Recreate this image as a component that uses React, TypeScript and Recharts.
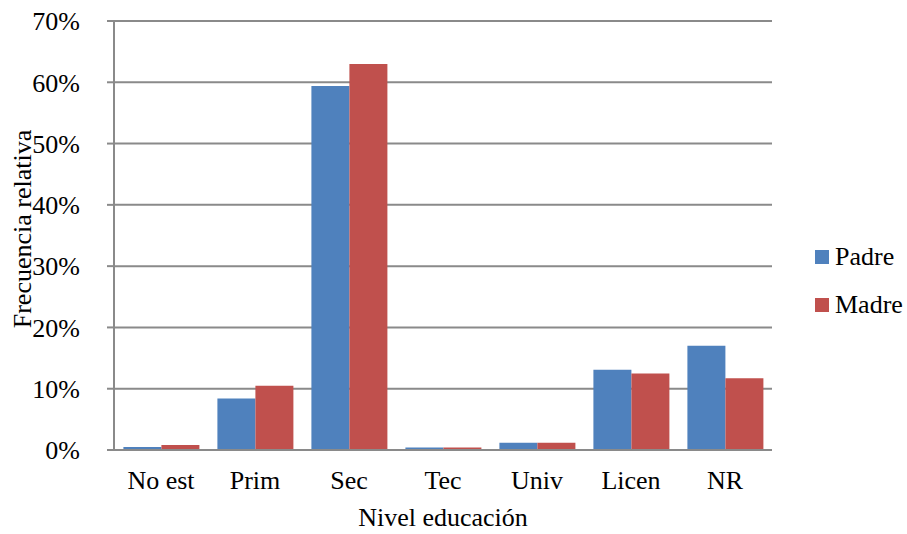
import {
  BarChart,
  Bar,
  XAxis,
  YAxis,
  CartesianGrid,
  Legend,
} from "recharts";

const niveles = ["No est", "Prim", "Sec", "Tec", "Univ", "Licen", "NR"];
const padre = [0.5, 8.4, 59.4, 0.4, 1.2, 13.1, 17.0];
const madre = [0.8, 10.5, 63.0, 0.4, 1.2, 12.5, 11.7];
const series = ["Padre", "Madre"];
const yTicks = [0, 10, 20, 30, 40, 50, 60, 70];

const data = niveles.map((nivel, i) => ({
  nivel,
  Padre: padre[i],
  Madre: madre[i],
}));

const font = "Liberation Serif, DejaVu Serif, Noto Serif, Times, serif";
const gray = "#8a8a8a";

const LegendBox = ({ payload = [] }: any) => {
  const items = [...payload].sort(
    (a: any, b: any) => series.indexOf(a.value) - series.indexOf(b.value)
  );
  return (
    <div>
      {items.map((p: any) => (
        <div
          key={p.value}
          style={{ display: "flex", alignItems: "center", height: 48 }}
        >
          <span
            style={{
              width: 14,
              height: 14,
              background: p.color,
              marginRight: 6,
              display: "inline-block",
            }}
          />
          <span style={{ fontSize: 26, fontFamily: font, color: "#000" }}>
            {p.value}
          </span>
        </div>
      ))}
    </div>
  );
};

const YTitle = () => (
  <text
    x={31}
    y={229}
    transform="rotate(-90 31 229)"
    textAnchor="middle"
    fontSize={26}
    fontFamily={font}
    fill="#000"
  >
    Frecuencia relativa
  </text>
);

export default () => {
  return (
    <div
      style={{
        position: "absolute",
        left: 0,
        top: 0,
        width: 907,
        height: 534,
        background: "#fff",
        fontFamily: font,
      }}
    >
      <BarChart
        width={907}
        height={534}
        data={data}
        margin={{ top: 21, right: 135, left: 0, bottom: 0 }}
        barCategoryGap="10%"
        barGap={0}
      >
        <CartesianGrid vertical={false} stroke={gray} strokeWidth={2} />
        <XAxis
          dataKey="nivel"
          height={84}
          tickLine={false}
          tickSize={0}
          tickMargin={21}
          axisLine={{ stroke: gray, strokeWidth: 2 }}
          tick={{ fontSize: 26, fontFamily: font, fill: "#000" }}
          interval={0}
          label={{
            value: "Nivel educación",
            position: "insideBottom",
            offset: 8,
            fontSize: 26,
            fontFamily: font,
            fill: "#000",
          }}
        />
        <YAxis
          width={114}
          domain={[0, 70]}
          ticks={yTicks}
          interval={0}
          tickFormatter={(v: number) => `${v}%`}
          tickSize={7}
          tickMargin={27}
          tickLine={{ stroke: gray, strokeWidth: 2 }}
          axisLine={{ stroke: gray, strokeWidth: 2 }}
          tick={{ fontSize: 26, fontFamily: font, fill: "#000" }}
          label={{ content: <YTitle /> }}
        />
        <Legend
          layout="vertical"
          align="center"
          verticalAlign="middle"
          wrapperStyle={{ left: 815, top: 233, width: 92 }}
          content={<LegendBox />}
        />
        <Bar dataKey="Padre" fill="#4F81BD" isAnimationActive={false} />
        <Bar dataKey="Madre" fill="#C0504D" isAnimationActive={false} />
      </BarChart>
    </div>
  );
};
